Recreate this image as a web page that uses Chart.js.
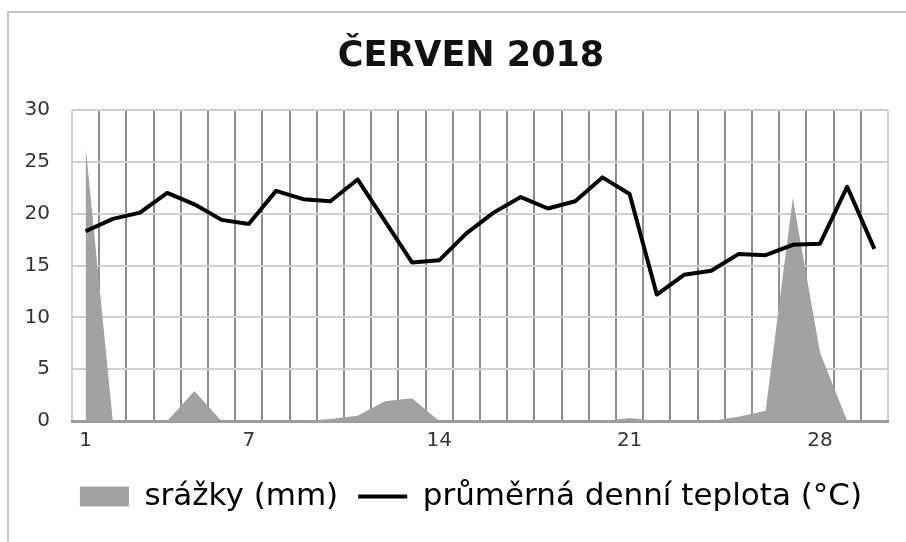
<!DOCTYPE html>
<html lang="cs">
<head>
<meta charset="utf-8">
<title>Červen 2018</title>
<script src="https://cdn.jsdelivr.net/npm/chart.js@4.4.1/dist/chart.umd.min.js"></script>
<style>
  html, body { margin: 0; padding: 0; background: #fff; }
  #wrap { position: relative; width: 906px; height: 542px; overflow: hidden; }
  /* light frame round the whole chart, only left and top edges are visible */
  #frame { position: absolute; left: 7px; top: 11px; width: 940px; height: 580px;
           border-left: 2px solid #c6c6c6; border-top: 2px solid #c6c6c6; }
  #chart { position: absolute; left: 0; top: 0; }
</style>
</head>
<body>
<div id="wrap">
  <div id="frame"></div>
  <canvas id="chart" width="906" height="542"></canvas>
</div>
<script>
/* ===============================
   DATA
================================= */
const days = ['1', '2', '3', '4', '5', '6', '7', '8', '9', '10',
              '11', '12', '13', '14', '15', '16', '17', '18', '19', '20',
              '21', '22', '23', '24', '25', '26', '27', '28', '29', '30'];
const shownDays = ['1', '7', '14', '21', '28'];

// srážky (mm)
const rain = [26.5, 0, 0, 0, 2.9, 0, 0, 0, 0, 0.2,
              0.5, 1.9, 2.2, 0, 0, 0, 0, 0, 0, 0,
              0.3, 0, 0, 0, 0.4, 1.0, 21.5, 6.6, 0, 0];

// průměrná denní teplota (°C)
const temp = [18.3, 19.5, 20.1, 22.0, 20.9, 19.4, 19.0, 22.2, 21.4, 21.2,
              23.3, 19.3, 15.3, 15.5, 18.1, 20.1, 21.6, 20.5, 21.2, 23.5,
              21.9, 12.2, 14.1, 14.5, 16.1, 16.0, 17.0, 17.1, 22.6, 16.6];

const yMin = 0;
const yMax = 30;
const yStep = 5;

/* ===============================
   STYLE
================================= */
const FONT = 'DejaVu Sans';
const rainFill = '#a2a2a2';
const gridDark = '#8e8e8e';
const gridLight = '#d0d0d0';

// title and legend sit a bit right of the canvas centre in the original
const shiftRight = {
    id: 'shiftRight',
    afterLayout(chart) {
        [chart.titleBlock, chart.legend].forEach(box => {
            if (!box) return;
            box.left += 17;
            box.right += 17;
        });
    }
};

/* ===============================
   CHART
================================= */
const ctx = document.getElementById('chart').getContext('2d');

new Chart(ctx, {
    type: 'line',
    data: {
        labels: days,
        datasets: [
            {
                label: 'srážky (mm)',
                data: rain,
                fill: 'origin',
                backgroundColor: rainFill,
                borderWidth: 0,
                pointRadius: 0,
                tension: 0,
                order: 2
            },
            {
                label: 'průměrná denní teplota (°C)',
                data: temp,
                fill: false,
                borderColor: '#000',
                borderWidth: 4,
                borderJoinStyle: 'round',
                pointRadius: 0,
                tension: 0,
                order: 1
            }
        ]
    },
    plugins: [shiftRight],
    options: {
        responsive: false,
        animation: false,
        devicePixelRatio: 1,
        layout: { padding: { top: 36, left: 20, right: 18, bottom: 20 } },
        plugins: {
            tooltip: { enabled: false },
            title: {
                display: true,
                text: 'ČERVEN 2018',
                color: '#111',
                font: { family: FONT, size: 35, weight: 'bold' },
                padding: { top: 0, bottom: 32 }
            },
            legend: {
                position: 'bottom',
                labels: {
                    usePointStyle: true,
                    pointStyleWidth: 49,
                    boxHeight: 20,
                    padding: 20,
                    color: '#222',
                    font: { family: FONT, size: 31 },
                    generateLabels: () => [
                        { text: 'srážky (mm)', fillStyle: rainFill, strokeStyle: rainFill,
                          lineWidth: 0, pointStyle: 'rect', hidden: false, datasetIndex: 0 },
                        { text: 'průměrná denní teplota (°C)', fillStyle: '#000', strokeStyle: '#000',
                          lineWidth: 4, pointStyle: 'line', hidden: false, datasetIndex: 1 }
                    ]
                }
            }
        },
        scales: {
            x: {
                offset: true,
                afterFit: s => { s.height = 40; },
                grid: {
                    offset: true,
                    drawTicks: false,
                    lineWidth: 2,
                    color: c => (c.index === undefined || c.index === 0) ? gridLight : gridDark
                },
                border: { color: '#9c9c9c', width: 3 },
                ticks: {
                    autoSkip: false,
                    maxRotation: 0,
                    padding: 8,
                    color: '#333',
                    font: { family: FONT, size: 20 },
                    callback: (v, i) => shownDays.includes(days[i]) ? days[i] : ''
                }
            },
            y: {
                min: yMin,
                max: yMax,
                afterFit: s => { s.width = 52; },
                grid: { drawTicks: false, lineWidth: 2, color: gridLight },
                border: { display: false },
                ticks: {
                    stepSize: yStep,
                    padding: 22,
                    color: '#333',
                    font: { family: FONT, size: 20 }
                }
            }
        }
    }
});
</script>
</body>
</html>
